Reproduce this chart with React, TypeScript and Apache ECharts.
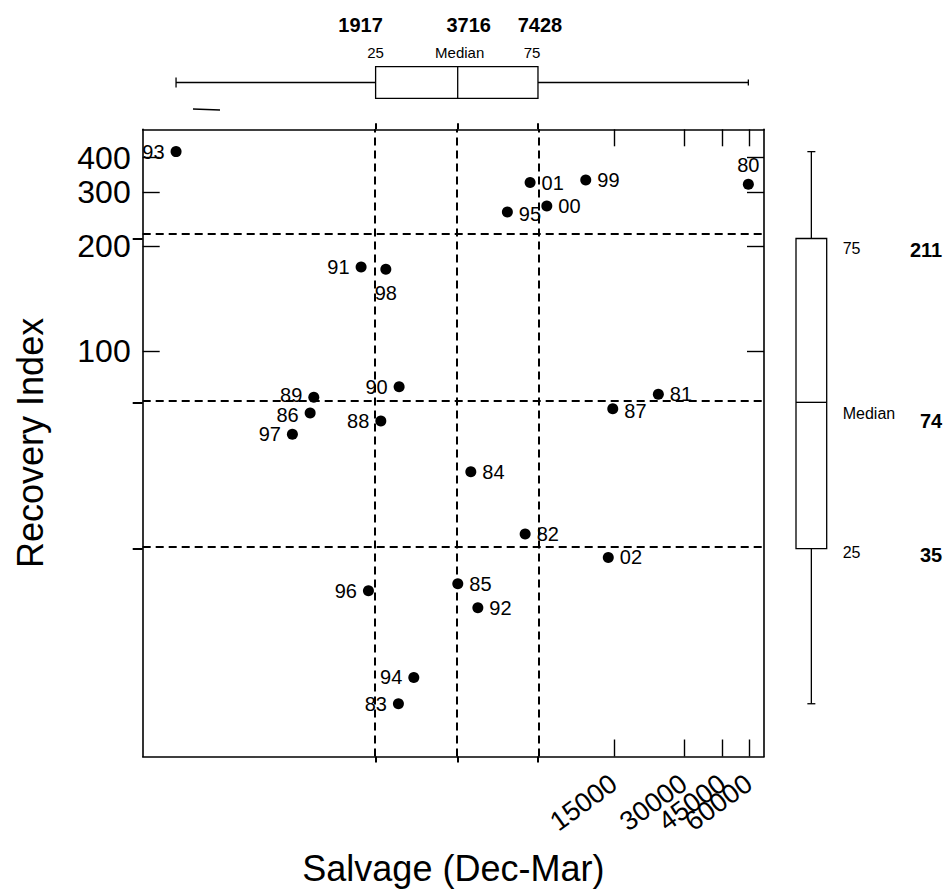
import React, { useEffect, useRef } from "react";
import * as echarts from "echarts";

// ---------- data ----------
const years = ["80", "81", "82", "83", "84", "85", "86", "87", "88", "89", "90", "91", "92", "93", "94", "95", "96", "97", "98", "99", "00", "01", "02"];
const salvage = [59560, 23170, 6628, 2294, 4148, 3719, 1165, 14830, 1997, 1197, 2307, 1713, 4402, 451, 2594, 5672, 1813, 1022, 2077, 11490, 8040, 6925, 14210];
const recovery = [320.4, 77.5, 37.5, 18.0, 51.0, 29.8, 69.7, 71.4, 66.7, 76.2, 80.9, 172.3, 26.8, 421.3, 20.0, 257.5, 28.9, 62.1, 169.6, 331.8, 269.7, 324.7, 33.6];

const xTickValues = [15000, 30000, 45000, 60000];
const yTickValues = [100, 200, 300, 400];

// box statistics: min, 25th, median, 75th, max
const salvageBox = [451, 1917, 3716, 7428, 59560];
const recoveryBox = [18.0, 35, 74, 211, 421.3];
const quartileNames = ["25", "Median", "75"];

// axis bounds (raw units)
const salvageBounds = [361, 70860];
const recoveryBounds = [14.69, 514.0];

// label sides for the year labels
const leftLabelled = ["93", "91", "90", "89", "86", "97", "88", "96", "94", "83"];
const belowLabelled = ["98"];
const aboveLabelled = ["80"];
const labelNudge: Record<string, number> = { "89": -2, "86": 2, "95": 2, "87": 2 };

// ---------- scales (power transforms) ----------
const tx = (v: number) => -Math.pow(v, -0.1);
const ty = (v: number) => -Math.pow(v, -0.25);

const FONT = "'Liberation Sans', Arial, Helvetica, sans-serif";
const NARROW = "'Liberation Sans Narrow', 'Liberation Sans', Arial, sans-serif";
const BLACK = "#000";

const MAIN = { left: 142.7, top: 129.3, width: 621.3, height: 627.2 };

function findTick(list: number[], f: (v: number) => number, val: number) {
  const hit = list.find((t) => Math.abs(f(t) - val) < 1e-7);
  return hit === undefined ? "" : String(hit);
}

function buildOption() {
  const xMin = tx(salvageBounds[0]);
  const xMax = tx(salvageBounds[1]);
  const yMin = ty(recoveryBounds[0]);
  const yMax = ty(recoveryBounds[1]);
  const xQuart = salvageBox.slice(1, 4);
  const yQuart = recoveryBox.slice(1, 4);
  // x tick labels overlap in the reference: split them over two label axes
  const xLabelsA = xTickValues.filter((_, i) => i % 2 === 0);
  const xLabelsB = xTickValues.filter((_, i) => i % 2 === 1);

  const hiddenAxis = { show: false };

  const scatterData = years.map((yr, i) => {
    let position = "right";
    let distance = 6;
    if (leftLabelled.includes(yr)) position = "left";
    if (belowLabelled.includes(yr)) { position = "bottom"; distance = 8; }
    if (aboveLabelled.includes(yr)) { position = "top"; distance = 4; }
    return {
      name: yr,
      value: [tx(salvage[i]), ty(recovery[i])],
      label: { position, distance, offset: [0, labelNudge[yr] || 0] },
    };
  });

  const lw = 1.3;
  const ln = (x1: number, y1: number, x2: number, y2: number) => ({
    type: "line",
    shape: { x1, y1, x2, y2 },
    style: { stroke: BLACK, lineWidth: lw },
  });

  const topBox = {
    type: "custom",
    xAxisIndex: 4,
    yAxisIndex: 3,
    clip: false,
    silent: true,
    data: [salvageBox.map(tx)],
    renderItem: (_params: any, api: any) => {
      const v = [0, 1, 2, 3, 4].map((i) => api.value(i));
      const px = v.map((val: number) => api.coord([val, 0.5])[0]);
      const top = api.coord([v[1], 1])[1];
      const bot = api.coord([v[1], 0])[1];
      const mid = api.coord([v[1], 0.5])[1];
      const numDx = [-15, 11, 2];
      const nameDx = [0, 2, -6];
      const children: any[] = [
        ln(px[0], mid, px[1], mid),
        ln(px[3], mid, px[4], mid),
        ln(px[0], mid - 5, px[0], mid + 5),
        ln(px[4], mid - 3, px[4], mid + 3),
        { type: "rect", shape: { x: px[1], y: top, width: px[3] - px[1], height: bot - top }, style: { fill: "#fff", stroke: BLACK, lineWidth: lw } },
        ln(px[2], top, px[2], bot),
      ];
      [1, 2, 3].forEach((k, j) => {
        children.push({
          type: "text",
          x: px[k] + numDx[j],
          y: top - 41.7,
          style: { text: String(salvageBox[k]), fill: BLACK, fontSize: 20, fontWeight: "bold", fontFamily: NARROW, align: "center", verticalAlign: "middle" },
        });
        children.push({
          type: "text",
          x: px[k] + nameDx[j],
          y: top - 14.7,
          style: { text: quartileNames[j], fill: BLACK, fontSize: 15, fontFamily: FONT, align: "center", verticalAlign: "middle" },
        });
      });
      return { type: "group", children };
    },
  };

  const rightBox = {
    type: "custom",
    xAxisIndex: 5,
    yAxisIndex: 4,
    clip: false,
    silent: true,
    data: [recoveryBox.map(ty)],
    renderItem: (_params: any, api: any) => {
      const v = [0, 1, 2, 3, 4].map((i) => api.value(i));
      const py = v.map((val: number) => api.coord([0.5, val])[1]);
      const left = api.coord([0, v[2]])[0];
      const right = api.coord([1, v[2]])[0];
      const cx = api.coord([0.5, v[2]])[0];
      const nameDy = [4, 11, 10];
      const valDy = [6, 19, 12];
      const children: any[] = [
        ln(cx, py[0], cx, py[1]),
        ln(cx, py[3], cx, py[4]),
        ln(cx - 4, py[0], cx + 4, py[0]),
        ln(cx - 4, py[4], cx + 4, py[4]),
        { type: "rect", shape: { x: left, y: py[3], width: right - left, height: py[1] - py[3] }, style: { fill: "#fff", stroke: BLACK, lineWidth: lw } },
        ln(left, py[2], right, py[2]),
      ];
      [1, 2, 3].forEach((k, j) => {
        children.push({
          type: "text",
          x: right + 16,
          y: py[k] + nameDy[j],
          style: { text: quartileNames[j], fill: BLACK, fontSize: 16, fontFamily: FONT, align: "left", verticalAlign: "middle" },
        });
        children.push({
          type: "text",
          x: right + 115.5,
          y: py[k] + valDy[j],
          style: { text: String(recoveryBox[k]), fill: BLACK, fontSize: 20, fontWeight: "bold", fontFamily: FONT, align: "right", verticalAlign: "middle" },
        });
      });
      return { type: "group", children };
    },
  };

  const xLabelStyle = {
    show: true, rotate: 36, margin: 24,
    fontSize: 27, color: BLACK, fontFamily: FONT,
    showMinLabel: true, showMaxLabel: true, hideOverlap: false,
    formatter: (val: number) => findTick(xTickValues, tx, val),
  };

  return {
    animation: false,
    backgroundColor: "#fff",
    textStyle: { fontFamily: FONT, color: BLACK },
    grid: [
      { ...MAIN, containLabel: false, outerBoundsMode: "none" },
      { left: MAIN.left, width: MAIN.width, top: 66.7, height: 31.6, containLabel: false, outerBoundsMode: "none" },
      { left: 796, width: 30.7, top: MAIN.top, height: MAIN.height, containLabel: false, outerBoundsMode: "none" },
    ],
    xAxis: [
      {
        type: "value", gridIndex: 0, position: "bottom", min: xMin, max: xMax,
        name: "Salvage (Dec-Mar)", nameLocation: "middle", nameGap: 94,
        nameTextStyle: { fontSize: 36, color: BLACK, fontFamily: FONT },
        axisLine: { show: true, lineStyle: { color: BLACK, width: 1.6 } },
        axisTick: { show: true, inside: true, length: 17, customValues: xTickValues.map(tx), lineStyle: { color: BLACK, width: 1.4 } },
        axisLabel: { ...xLabelStyle, customValues: xLabelsA.map(tx) },
        splitLine: { show: false },
      },
      {
        type: "value", gridIndex: 0, position: "top", min: xMin, max: xMax,
        axisLine: { show: true, lineStyle: { color: BLACK, width: 1.6 } },
        axisTick: { show: true, inside: true, length: 17, customValues: xTickValues.map(tx), lineStyle: { color: BLACK, width: 1.4 } },
        axisLabel: { show: false },
        splitLine: { show: false },
      },
      {
        type: "value", gridIndex: 0, position: "bottom", min: xMin, max: xMax,
        axisLine: { show: false },
        axisTick: { show: true, inside: false, length: 6, customValues: xQuart.map(tx), lineStyle: { color: BLACK, width: 2 } },
        axisLabel: { show: false },
        splitLine: { show: false },
      },
      {
        type: "value", gridIndex: 0, position: "top", min: xMin, max: xMax,
        axisLine: { show: false },
        axisTick: { show: true, inside: false, length: 6, customValues: xQuart.map(tx), lineStyle: { color: BLACK, width: 2 } },
        axisLabel: { show: false },
        splitLine: { show: false },
      },
      { type: "value", gridIndex: 1, min: xMin, max: xMax, ...hiddenAxis },
      { type: "value", gridIndex: 2, min: 0, max: 1, ...hiddenAxis },
      {
        type: "value", gridIndex: 0, position: "bottom", min: xMin, max: xMax,
        axisLine: { show: false },
        axisTick: { show: false },
        axisLabel: { ...xLabelStyle, customValues: xLabelsB.map(tx) },
        splitLine: { show: false },
      },
    ],
    yAxis: [
      {
        type: "value", gridIndex: 0, position: "left", min: yMin, max: yMax,
        name: "Recovery Index", nameLocation: "middle", nameGap: 94,
        nameTextStyle: { fontSize: 36, color: BLACK, fontFamily: FONT },
        axisLine: { show: true, lineStyle: { color: BLACK, width: 1.6 } },
        axisTick: { show: true, inside: true, length: 17, customValues: yTickValues.map(ty), lineStyle: { color: BLACK, width: 1.4 } },
        axisLabel: {
          show: true, customValues: yTickValues.map(ty), margin: 12,
          fontSize: 32, color: BLACK, fontFamily: FONT,
          showMinLabel: true, showMaxLabel: true, hideOverlap: false,
          formatter: (val: number) => findTick(yTickValues, ty, val),
        },
        splitLine: { show: false },
      },
      {
        type: "value", gridIndex: 0, position: "right", min: yMin, max: yMax,
        axisLine: { show: true, lineStyle: { color: BLACK, width: 1.6 } },
        axisTick: { show: true, inside: true, length: 17, customValues: yTickValues.map(ty), lineStyle: { color: BLACK, width: 1.4 } },
        axisLabel: { show: false },
        splitLine: { show: false },
      },
      {
        type: "value", gridIndex: 0, position: "left", min: yMin, max: yMax,
        axisLine: { show: false },
        axisTick: { show: true, inside: false, length: 10, customValues: yQuart.map(ty), lineStyle: { color: BLACK, width: 2 } },
        axisLabel: { show: false },
        splitLine: { show: false },
      },
      { type: "value", gridIndex: 1, min: 0, max: 1, ...hiddenAxis },
      { type: "value", gridIndex: 2, min: yMin, max: yMax, ...hiddenAxis },
    ],
    series: [
      {
        type: "scatter",
        xAxisIndex: 0,
        yAxisIndex: 0,
        symbol: "circle",
        symbolSize: 11,
        itemStyle: { color: BLACK, opacity: 1 },
        label: { show: true, formatter: "{b}", fontSize: 20, color: BLACK, fontFamily: FONT },
        emphasis: { disabled: true },
        data: scatterData,
        markLine: {
          silent: true,
          symbol: ["none", "none"],
          label: { show: false },
          lineStyle: { type: [8, 5], width: 2, color: BLACK, opacity: 1 },
          emphasis: { disabled: true },
          data: [
            ...xQuart.map((q) => ({ xAxis: tx(q) })),
            ...yQuart.map((q) => ({ yAxis: ty(q) })),
          ],
        },
        z: 3,
      },
      topBox,
      rightBox,
    ],
    graphic: [
      { type: "line", shape: { x1: 193, y1: 109, x2: 220, y2: 110 }, style: { stroke: BLACK, lineWidth: 1.6 } },
    ],
  };
}

export default function App() {
  const ref = useRef<HTMLDivElement>(null);
  useEffect(() => {
    if (!ref.current) return;
    const chart = echarts.init(ref.current, undefined, { renderer: "svg" });
    chart.setOption(buildOption() as any);
    return () => chart.dispose();
  }, []);
  return (
    <div
      ref={ref}
      style={{ position: "absolute", left: 0, top: 0, width: 947, height: 893, background: "#fff" }}
    />
  );
}
